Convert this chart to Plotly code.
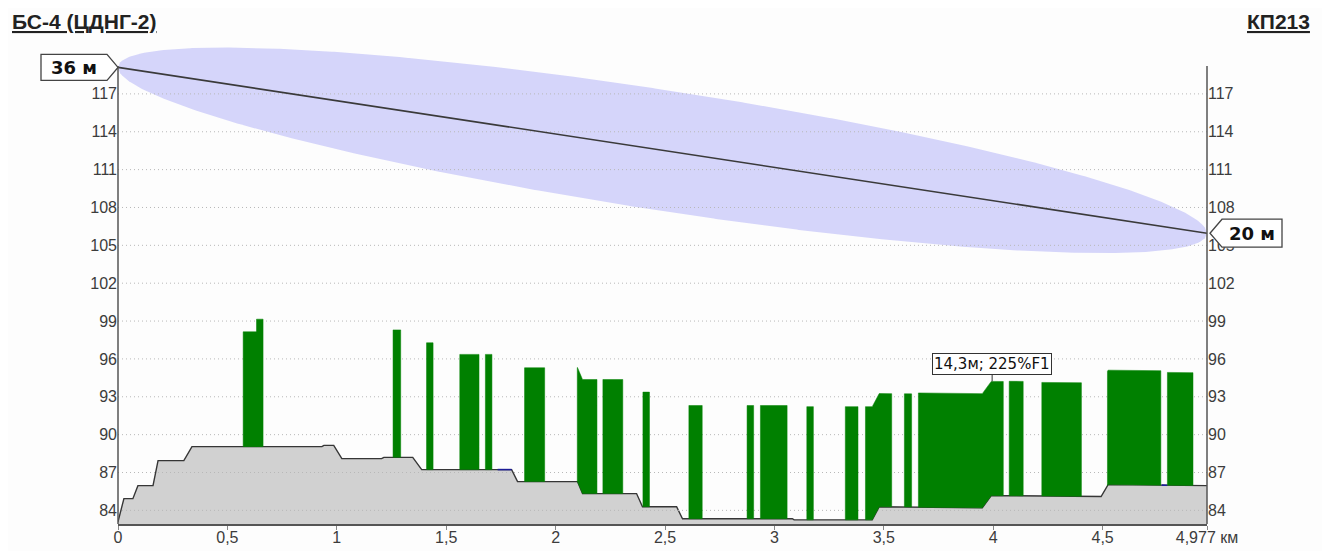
import numpy as np
import plotly.graph_objects as go

# ---------------- data ----------------
site_a = "БС-4 (ЦДНГ-2)"
site_b = "КП213"
path_length_km = 4.977
antenna_a_m = 36
antenna_b_m = 20
frequency_ghz = 5.8
fresnel_fraction = 0.6

terrain_km = [0.0, 0.027, 0.068, 0.091, 0.160, 0.183, 0.301, 0.338, 0.932, 0.941,
              0.986, 1.023, 1.205, 1.215, 1.347, 1.388, 1.799, 1.826, 2.100, 2.123,
              2.370, 2.397, 2.553, 2.580, 3.082, 3.090, 3.447, 3.479, 3.950, 3.991,
              4.493, 4.525, 4.977]
terrain_m = [83.1, 84.93, 84.93, 85.96, 85.96, 87.94, 87.94, 89.05, 89.05, 89.15,
             89.15, 88.10, 88.10, 88.20, 88.20, 87.23, 87.23, 86.28, 86.28, 85.33,
             85.33, 84.29, 84.29, 83.34, 83.34, 83.25, 83.25, 84.29, 84.20, 85.17,
             85.10, 86.04, 85.96]

obstacle_start_km = [0.572, 0.633, 1.257, 1.410, 1.562, 1.679, 1.858, 2.099, 2.216, 2.399,
                     2.609, 2.875, 2.936, 3.148, 3.324, 3.416, 3.594, 3.658, 4.073, 4.222,
                     4.522, 4.796]
obstacle_end_km = [0.633, 0.663, 1.292, 1.440, 1.650, 1.709, 1.950, 2.189, 2.307, 2.429,
                   2.670, 2.905, 3.058, 3.178, 3.382, 3.536, 3.627, 4.046, 4.137, 4.403,
                   4.766, 4.913]
obstacle_height_m = [9.1, 10.1, 10.1, 10.05, 9.13, 9.13, 9.02, 9.04, 9.04, 9.08,
                     8.97, 8.97, 8.97, 8.97, 8.97, 8.97, 8.97, 9.05, 9.07, 9.0,
                     9.07, 8.94]

water_start_km = [1.735, 4.770]
water_end_km = [1.799, 4.795]

x_tick_vals = [0, 0.5, 1, 1.5, 2, 2.5, 3, 3.5, 4, 4.5, 4.977]
x_tick_text = ["0", "0,5", "1", "1,5", "2", "2,5", "3", "3,5", "4", "4,5", "4,977 км"]
y_tick_vals = [84, 87, 90, 93, 96, 99, 102, 105, 108, 111, 114, 117]

clearance_label = "14,3м; 225%F1"
clearance_km = 3.995

# ---------------- geometry / style ----------------
W, H = 1330, 551
OFF = 8  # page body offset
ML, MR, MT, MB = 110, 131, 32, 35
Y_MIN, Y_MAX = 82.92, 121.27
plot_w = W - ML - MR
plot_h = H - MT - MB

tk = np.array(terrain_km)
tm = np.array(terrain_m)


def ground(x):
    return np.interp(x, tk, tm)


def ypaper(v):
    return (v - Y_MIN) / (Y_MAX - Y_MIN)


def px_x(sx):
    return (sx - OFF - ML) / plot_w


def px_y(sy):
    return (plot_h + MT - (sy - OFF)) / plot_h


D = path_length_km
h_a = float(ground(0.0)) + antenna_a_m
h_b = float(ground(D)) + antenna_b_m

fig = go.Figure()

# Fresnel ellipse (0.6 F1)
xs = np.linspace(0, D, 500)
los = h_a + (h_b - h_a) * xs / D
r = fresnel_fraction * 17.32 * np.sqrt(np.clip(xs * (D - xs), 0, None) / (frequency_ghz * D))
fig.add_trace(go.Scatter(
    x=np.concatenate([xs, xs[::-1]]), y=np.concatenate([los + r, (los - r)[::-1]]),
    fill="toself", fillcolor="#D5D5FA", line=dict(width=0), mode="lines",
    hoverinfo="skip", showlegend=False))

# terrain
fig.add_trace(go.Scatter(
    x=terrain_km, y=terrain_m, mode="lines", fill="tozeroy", fillcolor="#D1D1D1",
    line=dict(color="#363636", width=1.4), hoverinfo="skip", showlegend=False))

# grid (drawn above fills)
gx, gy = [], []
for v in y_tick_vals:
    gx += [0, D, None]
    gy += [v, v, None]
fig.add_trace(go.Scatter(x=gx, y=gy, mode="lines",
                         line=dict(color="#B8B8B8", width=1, dash="1px,3px"),
                         hoverinfo="skip", showlegend=False))

# obstacles
ox, oy = [], []
for s, e, h in zip(obstacle_start_km, obstacle_end_km, obstacle_height_m):
    inner = [k for k in terrain_km if s < k < e]
    pts = [s] + inner + [e]
    top = [float(ground(p)) + h for p in pts]
    bot = [float(ground(p)) for p in pts]
    ox += pts + pts[::-1] + [pts[0], None]
    oy += top + bot[::-1] + [top[0], None]
fig.add_trace(go.Scatter(x=ox, y=oy, mode="lines", fill="toself", fillcolor="#008000",
                         line=dict(color="#008000", width=0.5), hoverinfo="skip",
                         showlegend=False))

# water segments
wx, wy = [], []
for s, e in zip(water_start_km, water_end_km):
    wx += [s, e, None]
    wy += [float(ground(s)), float(ground(e)), None]
fig.add_trace(go.Scatter(x=wx, y=wy, mode="lines", line=dict(color="#1c1c96", width=1.6),
                         hoverinfo="skip", showlegend=False))

# line of sight
fig.add_trace(go.Scatter(x=[0, D], y=[h_a, h_b], mode="lines",
                         line=dict(color="#3a3a3a", width=1.6),
                         hoverinfo="skip", showlegend=False))

# dummy on right axis
fig.add_trace(go.Scatter(x=[0], y=[100], yaxis="y2", mode="markers",
                         marker=dict(opacity=0), hoverinfo="skip", showlegend=False))

tickfont = dict(family="Liberation Sans, Arial", size=16, color="#3c3c3c")
axis_col = "#555555"

fig.update_layout(
    width=W, height=H,
    margin=dict(l=ML, r=MR, t=MT, b=MB, pad=0, autoexpand=False),
    paper_bgcolor="#FDFDFD", plot_bgcolor="#FDFDFD",
    showlegend=False,
    xaxis=dict(range=[0, D], tickvals=x_tick_vals, ticktext=x_tick_text,
               showgrid=False, zeroline=False, showline=True, linecolor=axis_col,
               linewidth=1.5, ticks="outside", ticklen=4, tickcolor="#888",
               tickfont=tickfont, automargin=False, ticklabelstandoff=-6),
    yaxis=dict(range=[Y_MIN, Y_MAX], tickvals=y_tick_vals, showgrid=False,
               zeroline=False, showline=False, ticks="", tickfont=tickfont,
               automargin=False),
    yaxis2=dict(range=[Y_MIN, Y_MAX], tickvals=y_tick_vals, overlaying="y",
                side="right", showgrid=False, zeroline=False, showline=False,
                ticks="", tickfont=tickfont, automargin=False),
)

axis_top = ypaper(h_a + 0.1)
shapes = [
    dict(type="line", xref="paper", yref="paper", x0=0, x1=0, y0=0, y1=axis_top,
         line=dict(color=axis_col, width=1.5)),
    dict(type="line", xref="paper", yref="paper", x0=1, x1=1, y0=0, y1=axis_top,
         line=dict(color=axis_col, width=1.5)),
    dict(type="path", xref="paper", yref="paper", xsizemode="pixel", ysizemode="pixel",
         xanchor=0, yanchor=ypaper(h_a),
         path="M 0 0 L -11 13 L -77 13 L -77 -13 L -11 -13 Z",
         fillcolor="white", line=dict(color="#444", width=1.3), layer="above"),
    dict(type="path", xref="paper", yref="paper", xsizemode="pixel", ysizemode="pixel",
         xanchor=1, yanchor=ypaper(h_b),
         path="M 3 0 L 15 14 L 75 14 L 75 -14 L 15 -14 Z",
         fillcolor="white", line=dict(color="#444", width=1.3), layer="above"),
]
fig.update_layout(shapes=shapes)

title_font = dict(family="Liberation Sans, Arial", size=21, color="#222")
label_font = dict(family="DejaVu Sans", size=18, color="#111")
annotations = [
    dict(text=f'<b><span style="text-decoration:underline">{site_a}</span></b>',
         xref="paper", yref="paper", x=px_x(10), y=px_y(21),
         xanchor="left", yanchor="middle", showarrow=False, font=title_font),
    dict(text=f'<b><span style="text-decoration:underline">{site_b}</span></b>',
         xref="paper", yref="paper", x=px_x(1312), y=px_y(21),
         xanchor="right", yanchor="middle", showarrow=False, font=title_font),
    dict(text=f"<b>{antenna_a_m} м</b>", xref="paper", yref="paper", x=0, xshift=-44,
         y=ypaper(h_a), xanchor="center", yanchor="middle", showarrow=False,
         font=label_font),
    dict(text=f"<b>{antenna_b_m} м</b>", xref="paper", yref="paper", x=1, xshift=45,
         y=ypaper(h_b), xanchor="center", yanchor="middle", showarrow=False,
         font=label_font),
]
ci = obstacle_start_km.index(3.658)
clear_y = float(ground(clearance_km)) + obstacle_height_m[ci]
annotations.append(dict(
    text=clearance_label, x=clearance_km, y=clear_y, xref="x", yref="y",
    showarrow=True, arrowhead=0, arrowwidth=1, arrowcolor="#333", ax=0, ay=-17,
    bordercolor="#333", borderwidth=1, borderpad=1, bgcolor="white",
    font=dict(family="DejaVu Sans", size=15, color="#111")))
fig.update_layout(annotations=annotations)

fig.write_html("out.html")
